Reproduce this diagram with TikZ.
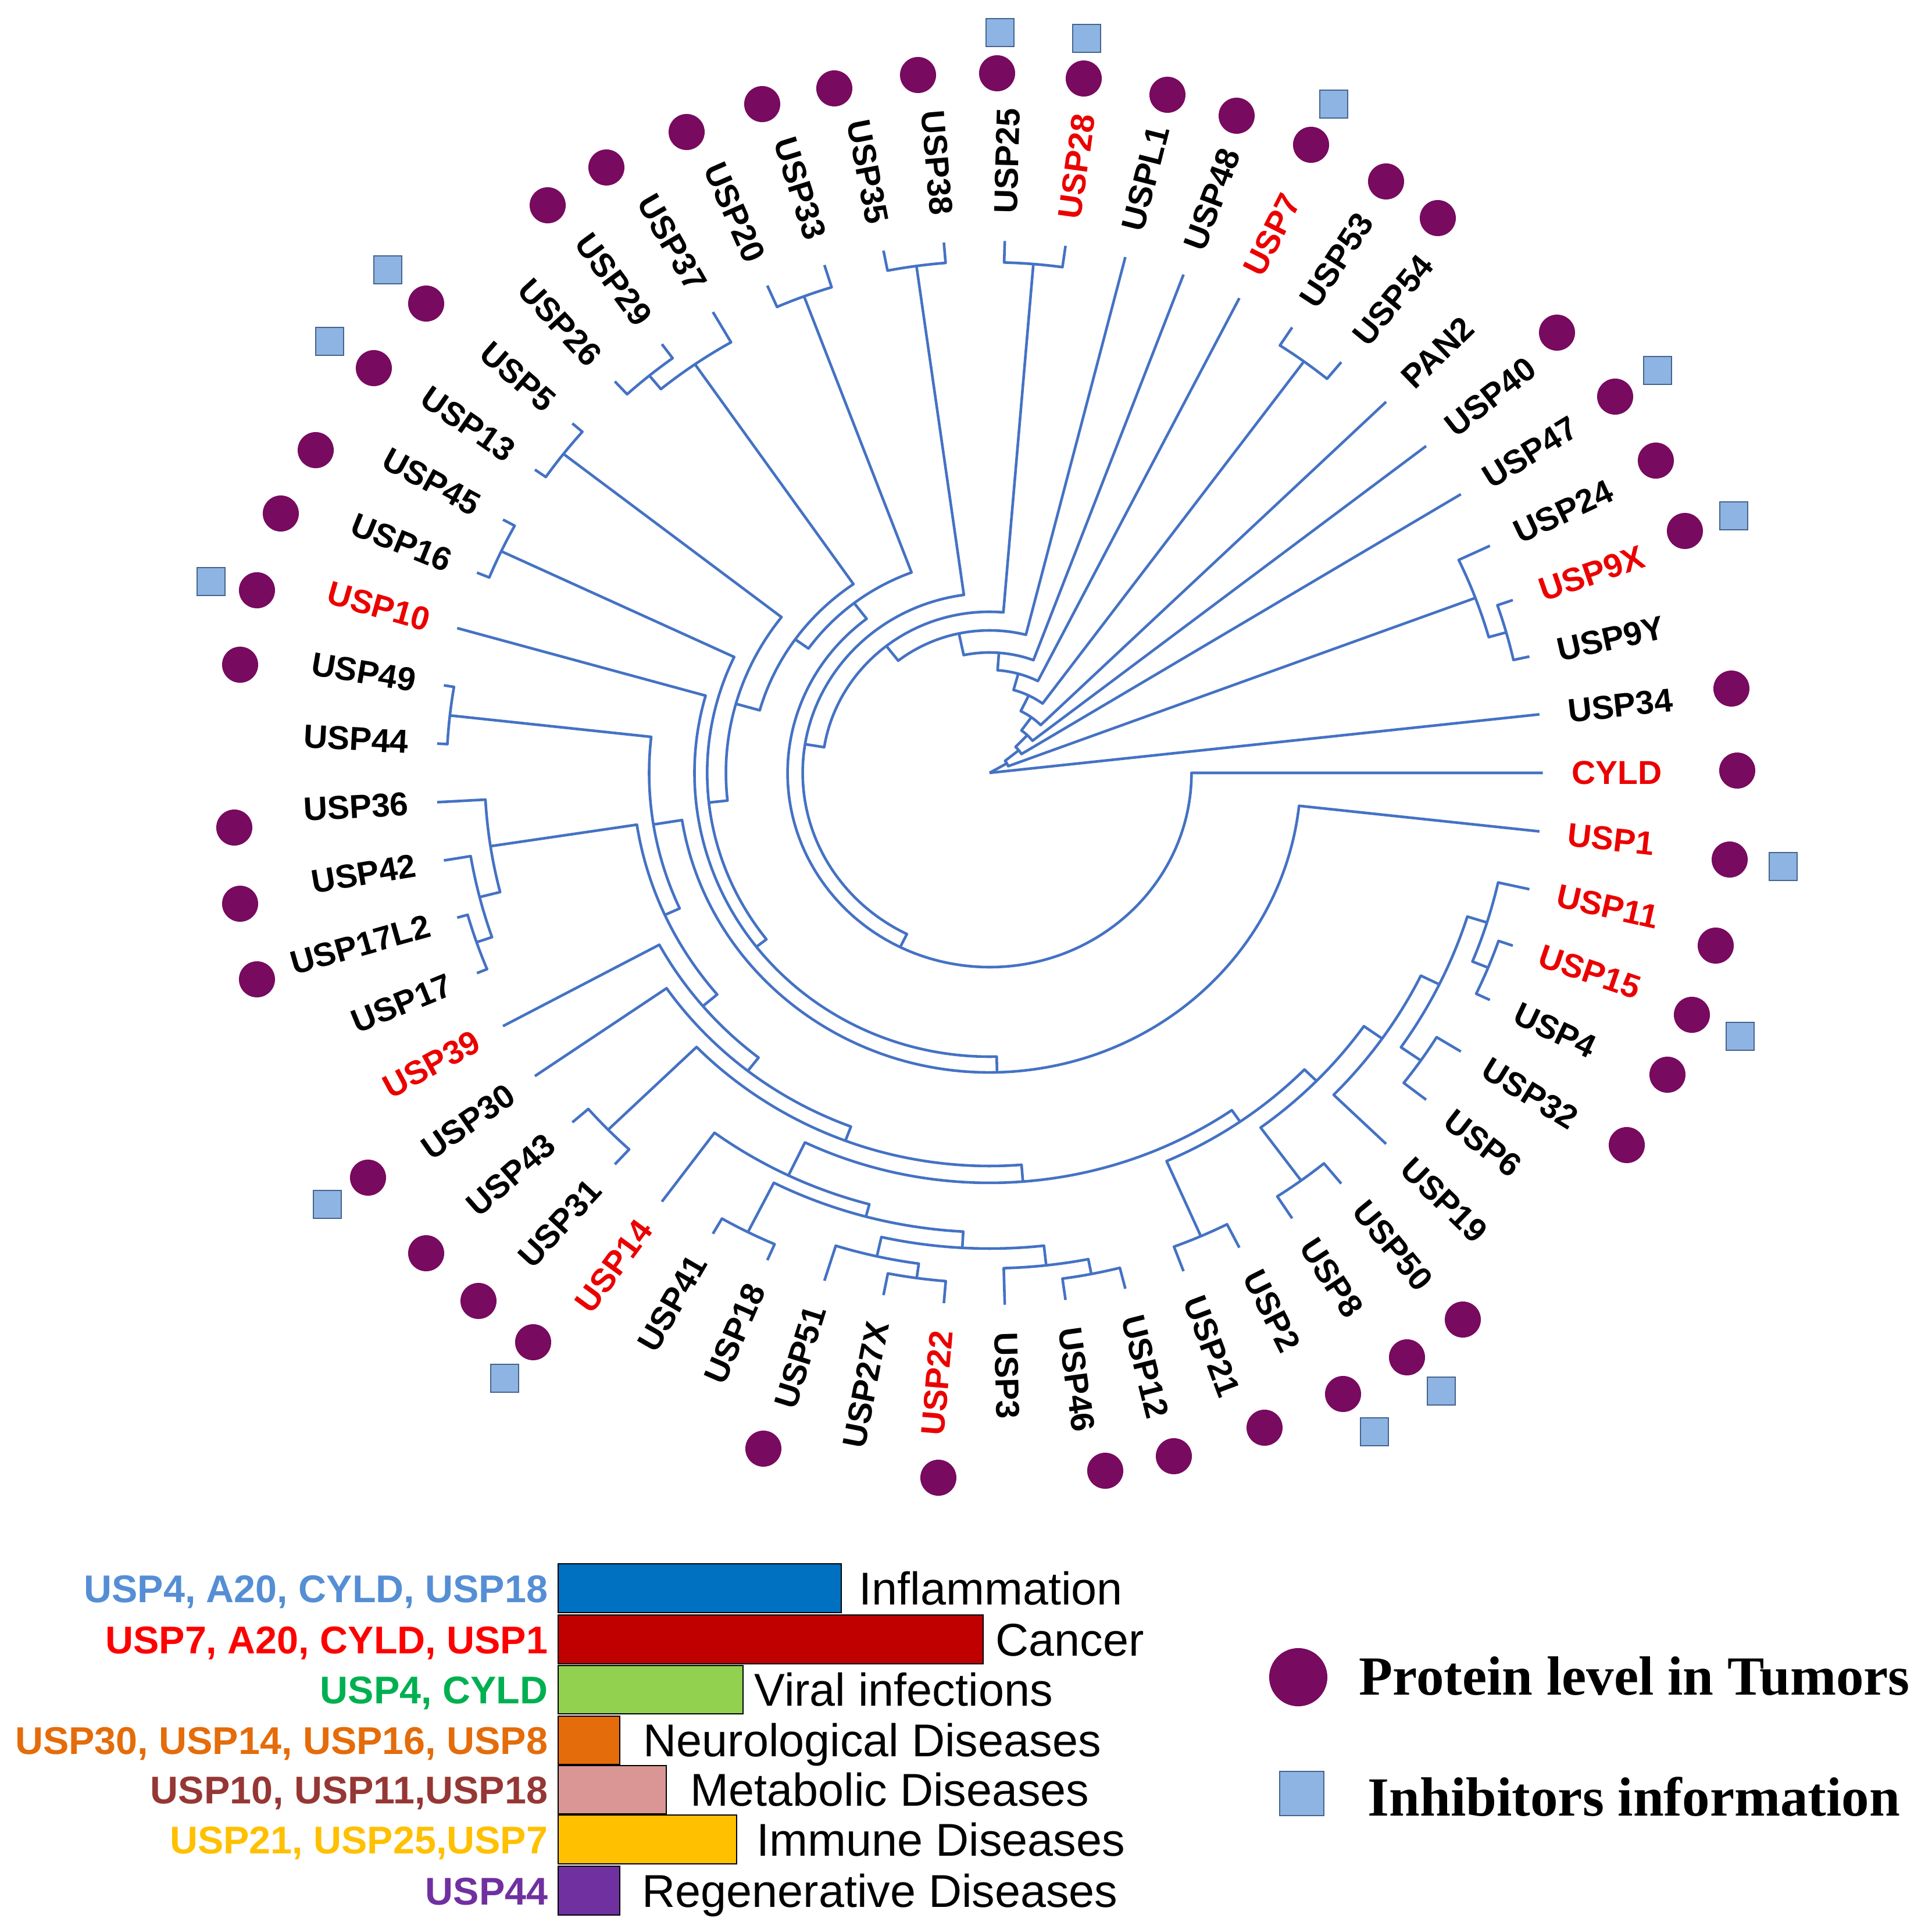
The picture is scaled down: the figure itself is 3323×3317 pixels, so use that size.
\documentclass[tikz,border=0pt]{standalone}
\usepackage{fontspec}
\newfontfamily\lsans{Liberation Sans}
\newfontfamily\lserif{Liberation Serif}
\definecolor{treeblue}{RGB}{68,114,196}
\definecolor{dotpurple}{RGB}{120,10,95}
\definecolor{sqfill}{RGB}{142,180,227}
\definecolor{sqdraw}{RGB}{70,100,140}
\definecolor{labred}{RGB}{235,0,0}
\definecolor{cInflam}{RGB}{0,112,192}
\definecolor{cCancer}{RGB}{192,0,0}
\definecolor{cViral}{RGB}{146,208,80}
\definecolor{cNeuro}{RGB}{228,108,10}
\definecolor{cMetab}{RGB}{217,150,148}
\definecolor{cImmune}{RGB}{255,192,0}
\definecolor{cRegen}{RGB}{112,48,160}
\definecolor{tInflam}{RGB}{85,142,213}
\definecolor{tCancer}{RGB}{255,0,0}
\definecolor{tViral}{RGB}{0,176,80}
\definecolor{tNeuro}{RGB}{228,108,10}
\definecolor{tMetab}{RGB}{149,55,53}
\definecolor{tImmune}{RGB}{255,192,0}
\definecolor{tRegen}{RGB}{112,48,160}
\newcommand\RT{915}
\newcommand\RL{962}
% internal node: radius, angle1, radius1, angle2, radius2
\newcommand\nd[5]{\draw[tree] (#2:#3) -- (#2:#1) arc[start angle=#2, end angle=#4, radius=#1] -- (#4:#5);}
\newcommand\labR[3][black]{\node[lab,text=#1,anchor=west,rotate=#2] (l#3) at (#2:\RL) {#3};}
\newcommand\labL[3][black]{\node[lab,text=#1,anchor=east,rotate=#2-180] (l#3) at (#2:\RL) {#3};}
\begin{document}
\begin{tikzpicture}[x=0.01cm,y=0.01cm,
 tree/.style={draw=treeblue,line width=1.3pt,line join=round},
 lab/.style={font=\lsans\bfseries\fontsize{16.2}{19}\selectfont,inner sep=0pt},
 dotn/.style={circle,fill=dotpurple,minimum size=0.62cm,inner sep=0pt},
 sqn/.style={rectangle,fill=sqfill,draw=sqdraw,line width=0.7pt,minimum size=0.48cm,inner sep=0pt},
 barbox/.style={draw=black,line width=0.6pt},
 bartext/.style={font=\lsans\fontsize{22.5}{26}\selectfont,inner sep=0pt,anchor=base west},
 distext/.style={font=\lsans\bfseries\fontsize{18.9}{22}\selectfont,inner sep=0pt,anchor=base east},
 legtext/.style={font=\lserif\bfseries\fontsize{27}{31}\selectfont,inner sep=0pt,anchor=west}]
\useasboundingbox (-1702,-1988) rectangle (1621,1329);

\begin{scope}[xscale=1.04]
% ---- clades near the leaves
\nd{878}{88.421}{\RT}{82.105}{\RT}     % USP25 USP28
\nd{878}{56.842}{\RT}{50.526}{\RT}     % USP53 USP54
\nd{888}{18.947}{\RT}{12.632}{\RT}     % USP9X USP9Y
\nd{858}{25.263}{\RT}{15.789}{888}     % USP24 + USP9
\nd{890}{341.053}{\RT}{334.737}{\RT}   % USP15 USP4
\nd{862}{347.368}{\RT}{337.895}{890}   % USP11 + ...
\nd{868}{328.421}{\RT}{322.105}{\RT}   % USP32 USP6
\nd{870}{309.474}{\RT}{303.158}{\RT}   % USP50 USP8
\nd{870}{296.842}{\RT}{290.526}{\RT}   % USP2 USP21
\nd{878}{284.211}{\RT}{277.895}{\RT}   % USP12 USP46
\nd{852}{271.579}{\RT}{281.053}{878}   % USP3 + ...
\nd{877}{265.263}{\RT}{258.947}{\RT}   % USP22 USP27X
\nd{852}{252.632}{\RT}{262.105}{877}   % USP51 + ...
\nd{818}{257.368}{852}{276.316}{852}   % bottom group
\nd{885}{246.316}{\RT}{240}{\RT}       % USP18 USP41
\nd{880}{227.368}{\RT}{221.053}{\RT}   % USP31 USP43
\nd{897}{202.105}{\RT}{195.789}{\RT}   % USP17 USP17L2
\nd{870}{198.947}{897}{189.474}{\RT}   % + USP42
\nd{835}{194.211}{870}{183.158}{\RT}   % + USP36
\nd{898}{176.842}{\RT}{170.526}{\RT}   % USP44 USP49
\nd{893}{157.895}{\RT}{151.579}{\RT}   % USP16 USP45
\nd{893}{145.263}{\RT}{138.947}{\RT}   % USP13 USP5
\nd{885}{132.632}{\RT}{126.316}{\RT}   % USP26 USP29
\nd{855}{129.474}{885}{120}{\RT}       % + USP37
\nd{875}{113.684}{\RT}{107.368}{\RT}   % USP20 USP33
\nd{880}{101.053}{\RT}{94.737}{\RT}    % USP35 USP38
% ---- lower right group
\nd{828}{342.632}{862}{325.263}{868}
\nd{794}{333.947}{828}{315.789}{\RT}
\nd{757}{324.868}{794}{306.316}{870}
\nd{729}{315.592}{757}{293.684}{870}
% ---- bottom / left spine
\nd{790}{243.158}{885}{266.842}{818}
\nd{768}{233.684}{\RT}{255}{790}
\nd{705}{244.342}{768}{304.638}{729}
\nd{676}{224.211}{880}{274.49}{705}
\nd{650}{214.737}{\RT}{249.35}{676}
\nd{621}{208.421}{\RT}{232.04}{650}
\nd{590}{188.684}{835}{220.23}{621}
\nd{563}{173.684}{898}{204.46}{590}
\nd{515}{189.07}{563}{353.684}{\RT}
\nd{488}{164.211}{\RT}{271.38}{515}
\nd{467}{154.737}{893}{217.8}{488}
\nd{436}{142.105}{893}{186.27}{467}
\nd{395}{124.737}{855}{164.19}{436}
\nd{368}{110.526}{875}{144.46}{395}
\nd{334}{127.49}{368}{360}{\RT}        % CYLD node
\nd{309}{97.895}{880}{243.75}{334}
% ---- ladder towards the root
\nd{277}{85.263}{878}{170.82}{309}
\nd{245}{75.789}{\RT}{128.04}{277}
\nd{207}{69.474}{\RT}{101.92}{245}
\nd{177}{63.158}{\RT}{85.70}{207}
\nd{148}{53.684}{878}{74.43}{177}
\nd{118}{44.211}{\RT}{64.06}{148}
\nd{90}{37.895}{\RT}{54.14}{118}
\nd{62}{31.579}{\RT}{46.02}{90}
\nd{33}{20.526}{858}{38.80}{62}
\coordinate (root) at (0,0);
\draw[tree] (root) -- (6.316:\RT);
\draw[tree] (root) -- (29.66:33);

% ---- leaf labels
\labR{88.421}{USP25}
\labR[labred]{82.105}{USP28}
\labR{75.789}{USPL1}
\labR{69.474}{USP48}
\labR[labred]{63.158}{USP7}
\labR{56.842}{USP53}
\labR{50.526}{USP54}
\labR{44.211}{PAN2}
\labR{37.895}{USP40}
\labR{31.579}{USP47}
\labR{25.263}{USP24}
\labR[labred]{18.947}{USP9X}
\labR{12.632}{USP9Y}
\labR{6.316}{USP34}
\labR[labred]{0}{CYLD}
\labR[labred]{-6.316}{USP1}
\labR[labred]{-12.632}{USP11}
\labR[labred]{-18.947}{USP15}
\labR{-25.263}{USP4}
\labR{-31.579}{USP32}
\labR{-37.895}{USP6}
\labR{-44.211}{USP19}
\labR{-50.526}{USP50}
\labR{-56.842}{USP8}
\labR{-63.158}{USP2}
\labR{-69.474}{USP21}
\labR{-75.789}{USP12}
\labR{-82.105}{USP46}
\labR{-88.421}{USP3}
\labL[labred]{265.263}{USP22}
\labL{258.947}{USP27X}
\labL{252.632}{USP51}
\labL{246.316}{USP18}
\labL{240}{USP41}
\labL[labred]{233.684}{USP14}
\labL{227.368}{USP31}
\labL{221.053}{USP43}
\labL{214.737}{USP30}
\labL[labred]{208.421}{USP39}
\labL{202.105}{USP17}
\labL{195.789}{USP17L2}
\labL{189.474}{USP42}
\labL{183.158}{USP36}
\labL{176.842}{USP44}
\labL{170.526}{USP49}
\labL[labred]{164.211}{USP10}
\labL{157.895}{USP16}
\labL{151.579}{USP45}
\labL{145.263}{USP13}
\labL{138.947}{USP5}
\labL{132.632}{USP26}
\labL{126.316}{USP29}
\labL{120}{USP37}
\labL{113.684}{USP20}
\labL{107.368}{USP33}
\labL{101.053}{USP35}
\labL{94.737}{USP38}
\end{scope}

% ---- protein level dots
\foreach \x/\y [count=\i] in {-760/976,-659/1041,-521/1102,-391/1150,-267/1177,-123/1200,13/1203,162/1194,306/1166,425/1130,553/1080,682/1017,771/954,
 976/757,1076/647,1146/537,1196/416,1276/145,1286/4,1273/-149,1249/-297,1208/-416,1166/-519,1096/-640,
 814/-940,718/-1005,608/-1068,473/-1126,317/-1175,199/-1200,-88/-1212,-389/-1162,
 -785/-979,-879/-908,-969/-826,-1069/-696,
 -1260/-355,-1289/-225,-1299/-94,-1289/186,-1260/314,-1219/446,-1159/555,-1059/696,-969/807}
 \node[dotn] (dot\i) at (\x,\y) {};
% ---- inhibitor squares
\foreach \x/\y [count=\i] in {18/1273,167/1263,592/1150,1149/692,1280/442,1365/-161,1291/-453,777/-1063,662/-1133,-834/-1041,-1139/-742,-1339/329,-1135/742,-1035/865}
 \node[sqn] (sq\i) at (\x,\y) {};

% ---- disease bars
\filldraw[barbox,fill=cInflam] (-742,-1360) rectangle (-255,-1444);
\filldraw[barbox,fill=cCancer] (-742,-1448) rectangle (-11,-1532);
\filldraw[barbox,fill=cViral]  (-742,-1535) rectangle (-424,-1618);
\filldraw[barbox,fill=cNeuro]  (-742,-1622) rectangle (-636,-1705);
\filldraw[barbox,fill=cMetab]  (-742,-1707) rectangle (-556,-1790);
\filldraw[barbox,fill=cImmune] (-742,-1792) rectangle (-435,-1876);
\filldraw[barbox,fill=cRegen]  (-742,-1880) rectangle (-636,-1964);

\node[bartext] (b1) at (-225,-1430) {Inflammation};
\node[bartext] (b2) at (10,-1518) {Cancer};
\node[bartext] (b3) at (-405,-1604) {Viral infections};
\node[bartext] (b4) at (-596,-1691) {Neurological Diseases};
\node[bartext] (b5) at (-515,-1776) {Metabolic Diseases};
\node[bartext] (b6) at (-401,-1862) {Immune Diseases};
\node[bartext] (b7) at (-598,-1950) {Regenerative Diseases};

\node[distext,text=tInflam] (g1) at (-759,-1426) {USP4, A20, CYLD, USP18};
\node[distext,text=tCancer] (g2) at (-759,-1514) {USP7, A20, CYLD, USP1};
\node[distext,text=tViral]  (g3) at (-759,-1600) {USP4, CYLD};
\node[distext,text=tNeuro]  (g4) at (-759,-1687) {USP30, USP14, USP16, USP8};
\node[distext,text=tMetab]  (g5) at (-759,-1772) {USP10, USP11,USP18};
\node[distext,text=tImmune] (g6) at (-759,-1858) {USP21, USP25,USP7};
\node[distext,text=tRegen]  (g7) at (-759,-1946) {USP44};

% ---- symbol legend
\node[circle,fill=dotpurple,minimum size=1.0cm,inner sep=0pt] (legdot) at (531,-1555) {};
\node[rectangle,fill=sqfill,draw=sqdraw,line width=0.8pt,minimum size=0.76cm,inner sep=0pt] (legsq) at (537,-1755) {};
\node[legtext] (legdottext) at (635,-1553) {Protein level in Tumors};
\node[legtext] (legsqtext) at (650,-1761) {Inhibitors information};
\end{tikzpicture}
\end{document}
